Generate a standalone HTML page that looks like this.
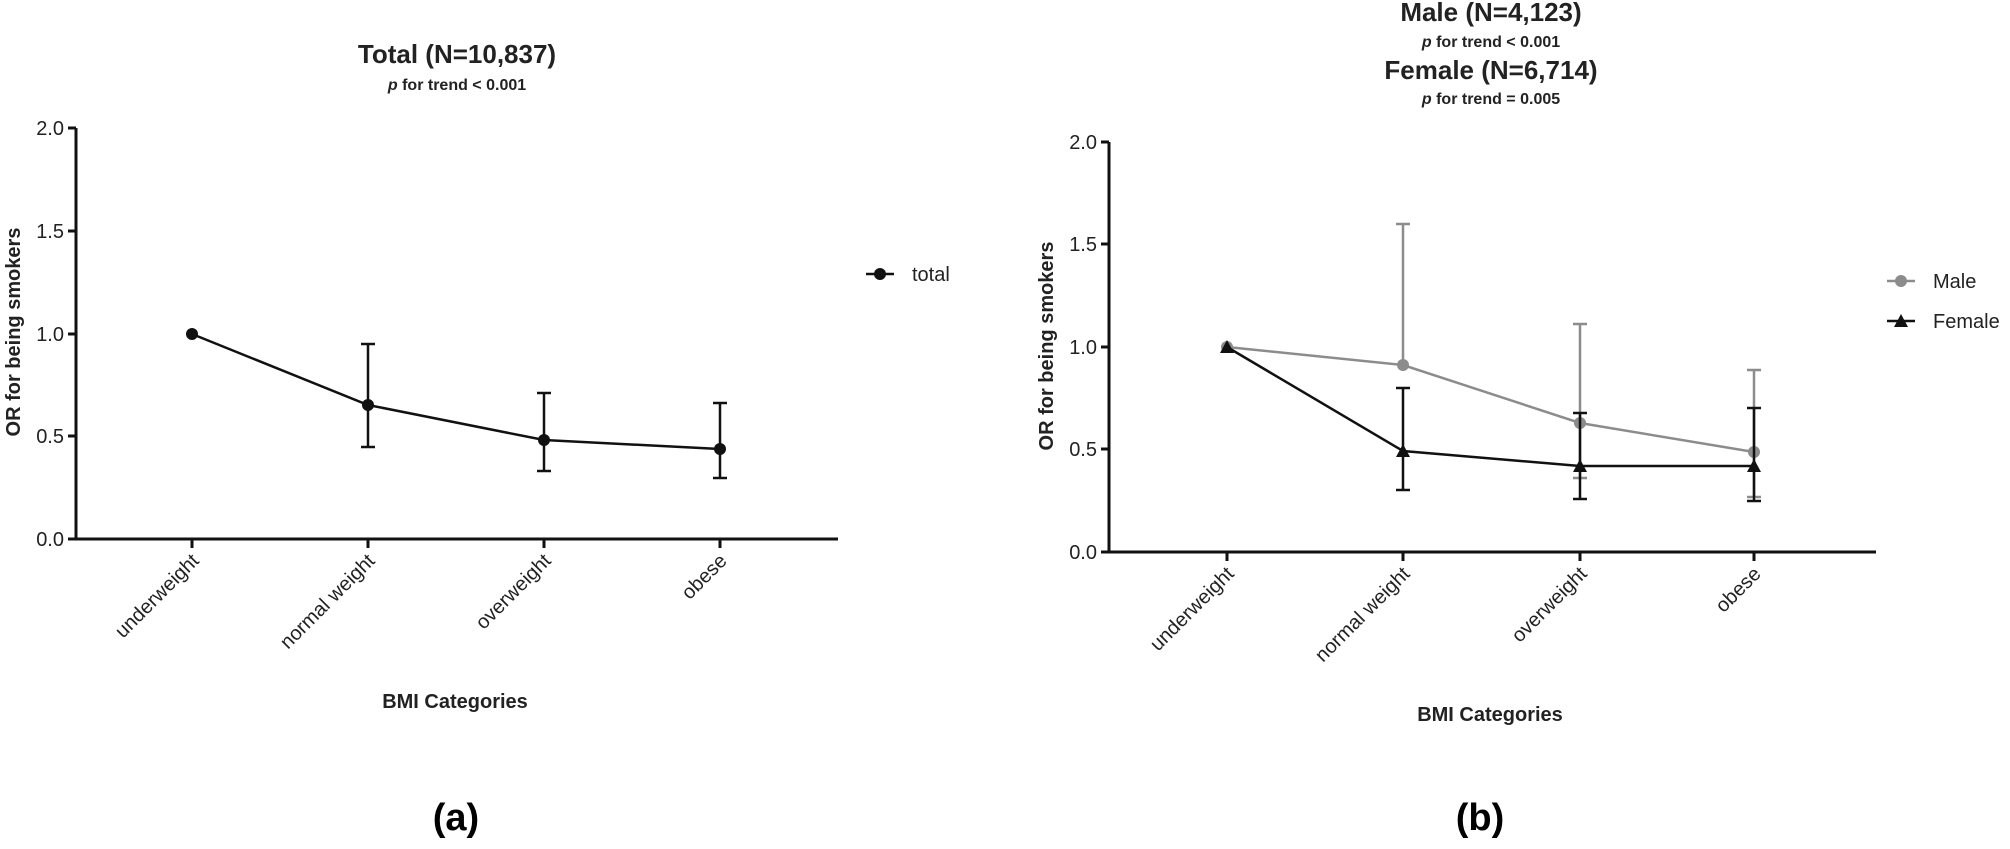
<!DOCTYPE html>
<html><head><meta charset="utf-8"><style>
html,body{margin:0;padding:0;background:#fff;}
svg{display:block;}
text{font-family:"Liberation Sans",sans-serif;}
</style></head><body>
<svg width="2010" height="849" viewBox="0 0 2010 849" xmlns="http://www.w3.org/2000/svg">
<rect width="2010" height="849" fill="#fff"/>
<!-- Panel a -->
<g fill="#222">
<text x="457" y="63" font-size="26" font-weight="bold" text-anchor="middle">Total (N=10,837)</text>
<text x="457" y="90" font-size="16" font-weight="bold" text-anchor="middle"><tspan font-style="italic">p</tspan> for trend &lt; 0.001</text>
</g>
<g stroke="#111" stroke-width="3" fill="none">
<line x1="76" y1="128" x2="76" y2="540"/>
<line x1="68" y1="539" x2="838" y2="539"/>
<line x1="68" y1="128" x2="76" y2="128"/><line x1="68" y1="231" x2="76" y2="231"/><line x1="68" y1="334" x2="76" y2="334"/><line x1="68" y1="436" x2="76" y2="436"/>
<line x1="192" y1="539" x2="192" y2="548"/><line x1="368" y1="539" x2="368" y2="548"/><line x1="544" y1="539" x2="544" y2="548"/><line x1="720" y1="539" x2="720" y2="548"/>
</g>
<g font-size="20" fill="#222" text-anchor="end">
<text x="64" y="135">2.0</text><text x="64" y="238">1.5</text><text x="64" y="341">1.0</text><text x="64" y="443">0.5</text><text x="64" y="546">0.0</text>
</g>
<text transform="translate(20,332) rotate(-90)" font-size="20" font-weight="bold" text-anchor="middle" fill="#222">OR for being smokers</text>
<g font-size="20" fill="#222" text-anchor="end">
<text transform="translate(200,562) rotate(-45)">underweight</text>
<text transform="translate(376,562) rotate(-45)">normal weight</text>
<text transform="translate(552,562) rotate(-45)">overweight</text>
<text transform="translate(728,562) rotate(-45)">obese</text>
</g>
<text x="455" y="708" font-size="20" font-weight="bold" text-anchor="middle" fill="#222">BMI Categories</text>
<g stroke="#111" stroke-width="2.5" fill="none">
<polyline points="192,334 368,405 544,440 720,449"/>
<line x1="368" y1="344" x2="368" y2="447"/><line x1="361" y1="344" x2="375" y2="344"/><line x1="361" y1="447" x2="375" y2="447"/>
<line x1="544" y1="393" x2="544" y2="471"/><line x1="537" y1="393" x2="551" y2="393"/><line x1="537" y1="471" x2="551" y2="471"/>
<line x1="720" y1="403" x2="720" y2="478"/><line x1="713" y1="403" x2="727" y2="403"/><line x1="713" y1="478" x2="727" y2="478"/>
<line x1="866" y1="274" x2="894" y2="274"/>
</g>
<g fill="#111"><circle cx="192" cy="334" r="6"/><circle cx="368" cy="405" r="6"/><circle cx="544" cy="440" r="6"/><circle cx="720" cy="449" r="6"/><circle cx="880" cy="274" r="6"/></g>
<text x="912" y="281" font-size="20" fill="#222">total</text>
<text x="456" y="830" font-family="Liberation Serif,serif" font-size="38" font-weight="bold" text-anchor="middle" fill="#000">(a)</text>

<!-- Panel b -->
<g fill="#222" text-anchor="middle">
<text x="1491" y="21" font-size="26" font-weight="bold">Male (N=4,123)</text>
<text x="1491" y="47" font-size="16" font-weight="bold"><tspan font-style="italic">p</tspan> for trend &lt; 0.001</text>
<text x="1491" y="79" font-size="26" font-weight="bold">Female (N=6,714)</text>
<text x="1491" y="104" font-size="16" font-weight="bold"><tspan font-style="italic">p</tspan> for trend = 0.005</text>
</g>
<g stroke="#111" stroke-width="3" fill="none">
<line x1="1109" y1="142" x2="1109" y2="553"/>
<line x1="1101" y1="552" x2="1876" y2="552"/>
<line x1="1101" y1="142" x2="1109" y2="142"/><line x1="1101" y1="244" x2="1109" y2="244"/><line x1="1101" y1="347" x2="1109" y2="347"/><line x1="1101" y1="449" x2="1109" y2="449"/>
<line x1="1227" y1="552" x2="1227" y2="561"/><line x1="1403" y1="552" x2="1403" y2="561"/><line x1="1580" y1="552" x2="1580" y2="561"/><line x1="1754" y1="552" x2="1754" y2="561"/>
</g>
<g font-size="20" fill="#222" text-anchor="end">
<text x="1097" y="149">2.0</text><text x="1097" y="251">1.5</text><text x="1097" y="354">1.0</text><text x="1097" y="456">0.5</text><text x="1097" y="559">0.0</text>
</g>
<text transform="translate(1053,346) rotate(-90)" font-size="20" font-weight="bold" text-anchor="middle" fill="#222">OR for being smokers</text>
<g font-size="20" fill="#222" text-anchor="end">
<text transform="translate(1235,575) rotate(-45)">underweight</text>
<text transform="translate(1411,575) rotate(-45)">normal weight</text>
<text transform="translate(1588,575) rotate(-45)">overweight</text>
<text transform="translate(1762,575) rotate(-45)">obese</text>
</g>
<text x="1490" y="721" font-size="20" font-weight="bold" text-anchor="middle" fill="#222">BMI Categories</text>
<!-- Male gray -->
<g stroke="#8c8c8c" stroke-width="2.5" fill="none">
<polyline points="1227,347 1403,365 1580,423 1754,452"/>
<line x1="1403" y1="224" x2="1403" y2="365"/><line x1="1396" y1="224" x2="1410" y2="224"/>
<line x1="1580" y1="324" x2="1580" y2="478"/><line x1="1573" y1="324" x2="1587" y2="324"/><line x1="1573" y1="478" x2="1587" y2="478"/>
<line x1="1754" y1="370" x2="1754" y2="497"/><line x1="1747" y1="370" x2="1761" y2="370"/><line x1="1747" y1="497" x2="1761" y2="497"/>
<line x1="1887" y1="281" x2="1915" y2="281"/>
</g>
<g fill="#8c8c8c"><circle cx="1227" cy="347" r="6"/><circle cx="1403" cy="365" r="6"/><circle cx="1580" cy="423" r="6"/><circle cx="1754" cy="452" r="6"/><circle cx="1901" cy="281" r="6"/></g>
<!-- Female black -->
<g stroke="#111" stroke-width="2.5" fill="none">
<polyline points="1227,347 1403,451 1580,466 1754,466"/>
<line x1="1403" y1="388" x2="1403" y2="490"/><line x1="1396" y1="388" x2="1410" y2="388"/><line x1="1396" y1="490" x2="1410" y2="490"/>
<line x1="1580" y1="413" x2="1580" y2="499"/><line x1="1573" y1="413" x2="1587" y2="413"/><line x1="1573" y1="499" x2="1587" y2="499"/>
<line x1="1754" y1="408" x2="1754" y2="501"/><line x1="1747" y1="408" x2="1761" y2="408"/><line x1="1747" y1="501" x2="1761" y2="501"/>
<line x1="1887" y1="321" x2="1915" y2="321"/>
</g>
<g fill="#111">
<polygon points="1227,340 1234,353 1220,353"/><polygon points="1403,444 1410,457 1396,457"/><polygon points="1580,459 1587,472 1573,472"/><polygon points="1754,459 1761,472 1747,472"/><polygon points="1901,314 1908,327 1894,327"/>
</g>
<text x="1933" y="288" font-size="20" fill="#222">Male</text>
<text x="1933" y="328" font-size="20" fill="#222">Female</text>
<text x="1480" y="830" font-family="Liberation Serif,serif" font-size="38" font-weight="bold" text-anchor="middle" fill="#000">(b)</text>
</svg>
</body></html>
